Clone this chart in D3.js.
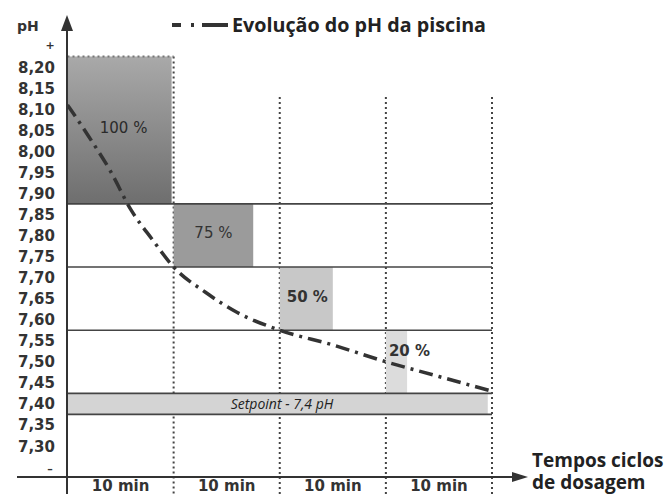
<!DOCTYPE html>
<html><head><meta charset="utf-8">
<script src="https://cdn.jsdelivr.net/npm/d3@7"></script>
<style>
html,body{margin:0;padding:0;background:#fff;}
svg{display:block;}
</style></head>
<body>
<svg id="chart" width="670" height="494"></svg>
<script>
// ---------- data ----------
const yTickValues = [8.25, 8.20, 8.15, 8.10, 8.05, 8.00, 7.95, 7.90, 7.85, 7.80, 7.75, 7.70, 7.65, 7.60, 7.55, 7.50, 7.45, 7.40, 7.35, 7.30, 7.25];
const yTickLabels = ["+", "8,20", "8,15", "8,10", "8,05", "8,00", "7,95", "7,90", "7,85", "7,80", "7,75", "7,70", "7,65", "7,60", "7,55", "7,50", "7,45", "7,40", "7,35", "7,30", "–"];
const cycleStart = [0, 10, 20, 30];          // minutes
const cycleLabels = ["10 min", "10 min", "10 min", "10 min"];
const dosePercent = [100, 75, 50, 20];
const doseLabels = ["100 %", "75 %", "50 %", "20 %"];
const bandTop = [8.225, 7.875, 7.725, 7.575];
const bandBottom = [7.875, 7.725, 7.575, 7.425];
const levelLines = [7.875, 7.725, 7.575, 7.425, 7.375];
const setpointRange = [7.425, 7.375];
const setpointLabel = "Setpoint - 7,4 pH";
const curveMinutes = [0, 2, 4, 6, 8, 10, 13, 16, 20, 25, 30, 35, 40];
const curvePH = [8.11, 8.035, 7.955, 7.86, 7.79, 7.725, 7.665, 7.617, 7.575, 7.54, 7.50, 7.465, 7.43];
const legendLabel = "Evolução do pH da piscina";
const yAxisTitle = "pH";
const xAxisTitle = ["Tempos ciclos", "de dosagem"];

// ---------- layout ----------
const svg = d3.select("#chart");
const x = d3.scaleLinear().domain([0, 40]).range([67.5, 492]);
const y = d3.scaleLinear().domain([7.30, 8.20]).range([446, 67]);
const axisY = 477;
const dark = "#333";
const fontV = "'DejaVu Sans', Verdana, sans-serif";
const fontC = "'Open Sans', 'Noto Sans', sans-serif";

// gradients
const defs = svg.append("defs");
const g1 = defs.append("linearGradient").attr("id", "g100").attr("x1", 0).attr("y1", 0).attr("x2", 0).attr("y2", 1);
g1.append("stop").attr("offset", "0%").attr("stop-color", "#a9a9a9");
g1.append("stop").attr("offset", "100%").attr("stop-color", "#6e6e6e");
const boxFill = d3.scaleOrdinal().domain(dosePercent).range(["url(#g100)", "#9b9b9b", "#c8c8c8", "#dcdcdc"]);

// vertical dotted cycle lines
[10, 20, 30, 40].forEach(m => {
  svg.append("line").attr("x1", x(m)).attr("x2", x(m))
    .attr("y1", m === 10 ? y(bandTop[0]) : 97).attr("y2", 494)
    .attr("stroke", "#444").attr("stroke-width", 2).attr("stroke-dasharray", "2,3");
});

// dose boxes
dosePercent.forEach((p, i) => {
  const x0 = x(cycleStart[i]);
  const x1 = x(cycleStart[i] + 10 * p / 100);
  const y0 = y(bandTop[i]), y1 = y(bandBottom[i]);
  svg.append("rect").attr("x", x0).attr("y", y0).attr("width", x1 - x0 - (i === 0 ? 2 : 0)).attr("height", y1 - y0)
    .attr("fill", boxFill(p));
});
// dotted top border of the 100% box
svg.append("line").attr("x1", x(0)).attr("x2", x(10)).attr("y1", y(bandTop[0])).attr("y2", y(bandTop[0]))
  .attr("stroke", "#777").attr("stroke-width", 2).attr("stroke-dasharray", "2,3");

// setpoint band (covers the dotted lines)
svg.append("rect").attr("x", x(0)).attr("y", y(setpointRange[0]))
  .attr("width", x(39.6) - x(0)).attr("height", y(setpointRange[1]) - y(setpointRange[0]))
  .attr("fill", "#d4d4d4");
svg.append("text").attr("x", 282).attr("y", (y(setpointRange[0]) + y(setpointRange[1])) / 2 + 5)
  .attr("text-anchor", "middle").attr("font-family", fontC).attr("font-style", "italic")
  .attr("font-size", 14).attr("fill", "#222").text(setpointLabel);

// horizontal level lines
svg.selectAll(".lvl").data(levelLines).enter().append("line")
  .attr("x1", x(0)).attr("x2", x(40)).attr("y1", d => y(d)).attr("y2", d => y(d))
  .attr("stroke", "#444").attr("stroke-width", 1.6);

// dose labels
dosePercent.forEach((p, i) => {
  const x0 = x(cycleStart[i]);
  const x1 = x(cycleStart[i] + 10 * p / 100);
  const cy = (y(bandTop[i]) + y(bandBottom[i])) / 2;
  const narrow = (x1 - x0) < 40;
  svg.append("text")
    .attr("x", narrow ? x0 + 3 : (x0 + x1) / 2 + (i === 2 ? 1 : 0) + (i === 0 ? 3 : 0))
    .attr("y", narrow ? cy - 6 : cy + 3)
    .attr("text-anchor", narrow ? "start" : "middle")
    .attr("font-family", fontV).attr("font-size", 15)
    .attr("font-weight", p <= 50 ? "bold" : "normal")
    .attr("fill", i === 0 ? "#2a2a2a" : "#333").text(doseLabels[i]);
});

// pH curve
const line = d3.line().x((d, i) => x(curveMinutes[i])).y(d => y(d)).curve(d3.curveMonotoneX);
svg.append("path").datum(curvePH).attr("d", line)
  .attr("fill", "none").attr("stroke", "#333").attr("stroke-width", 3.5)
  .attr("stroke-dasharray", "14,6,3,6");

// axes
svg.append("line").attr("x1", 67).attr("x2", 67).attr("y1", 28).attr("y2", 494)
  .attr("stroke", dark).attr("stroke-width", 2);
svg.append("path").attr("d", "M67,15 L73,31 L61,31 Z").attr("fill", dark);
svg.append("line").attr("x1", 17).attr("x2", 515).attr("y1", axisY).attr("y2", axisY)
  .attr("stroke", dark).attr("stroke-width", 2);
svg.append("path").attr("d", `M528,${axisY} L512,${axisY - 5} L512,${axisY + 5} Z`).attr("fill", dark);

// y tick labels
svg.selectAll(".yl").data(yTickValues).enter().append("text")
  .attr("x", (d, i) => (i === 0 || i === yTickValues.length - 1) ? 50 : 55)
  .attr("y", (d, i) => y(d) + (i === 0 ? 3 : 5.5))
  .attr("text-anchor", (d, i) => (i === 0 || i === yTickValues.length - 1) ? "middle" : "end")
  .attr("font-family", fontV).attr("font-weight", "bold")
  .attr("font-size", (d, i) => (i === 0 || i === yTickValues.length - 1) ? 11 : 15)
  .attr("fill", dark).text((d, i) => yTickLabels[i]);

svg.append("text").attr("x", 17).attr("y", 31).attr("font-family", fontV).attr("font-weight", "bold")
  .attr("font-size", 14).attr("fill", dark).text(yAxisTitle);

// x labels
svg.selectAll(".xl").data(cycleStart).enter().append("text")
  .attr("x", d => x(d + 5)).attr("y", 491).attr("text-anchor", "middle")
  .attr("font-family", fontV).attr("font-weight", "bold").attr("font-size", 15)
  .attr("fill", dark).text((d, i) => cycleLabels[i]);

svg.selectAll(".xt").data(xAxisTitle).enter().append("text")
  .attr("x", 532).attr("y", (d, i) => 467 + i * 22)
  .attr("font-family", fontC).attr("font-weight", "bold").attr("font-size", 19)
  .attr("fill", "#222").text(d => d);

// legend
svg.append("path").attr("d", "M172,25 L228,25").attr("stroke", dark).attr("stroke-width", 4)
  .attr("stroke-dasharray", "9,10,3,8,60");
svg.append("text").attr("x", 232).attr("y", 32).attr("font-family", fontC).attr("font-weight", "bold")
  .attr("font-size", 19.5).attr("textLength", 254).attr("lengthAdjust", "spacingAndGlyphs")
  .attr("fill", "#222").text(legendLabel);
</script>
</body></html>
